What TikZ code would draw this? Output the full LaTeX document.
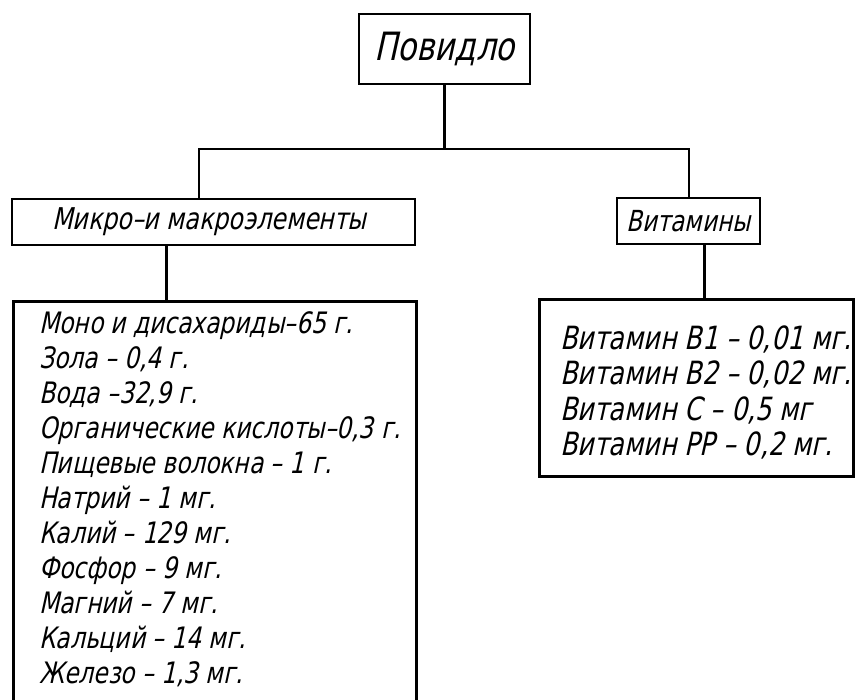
\documentclass[tikz,border=0pt]{standalone}
\usepackage{fontspec}
\newfontfamily\gost[FakeSlant=0.22,FakeStretch=0.88]{DejaVu Sans Condensed}
\tikzset{
  box/.style={draw, line width=2.8pt, inner sep=0pt, font=\gost},
  listbox/.style={box, anchor=north west, align=left}
}
\begin{document}
\begin{tikzpicture}[x=1pt, y=-1pt, line width=2.8pt]
  \useasboundingbox[fill=white] (0,0) rectangle (856,700);
  % heading boxes
  \node[box, minimum width=171pt, minimum height=70pt, font=\gost\fontsize{39}{46}\selectfont] (top) at (444.5,49) {Повидло};
  \node[box, minimum width=403pt, minimum height=46pt, font=\gost\fontsize{30}{34}\selectfont] (micro) at (213.5,222) {Микро–и макроэлементы\hspace*{8pt}};
  \node[box, minimum width=143pt, minimum height=46pt, font=\gost\fontsize{29}{34}\selectfont] (vit) at (688.5,221) {Витамины};
  % lists
  \node[listbox, font=\gost\fontsize{29.5}{35}\selectfont] (lst) at (12,300) {%
    \hspace*{26pt}\begin{minipage}[t][420pt][t]{372pt}\vspace*{10pt}
    Моно и дисахариды–65 г.\\
    Зола – 0,4 г.\\
    Вода –32,9 г.\\
    Органические кислоты–0,3 г.\\
    Пищевые волокна – 1 г.\\
    Натрий – 1 мг.\\
    Калий – 129 мг.\\
    Фосфор – 9 мг.\\
    Магний – 7 мг.\\
    Кальций – 14 мг.\\
    Железо – 1,3 мг.
    \end{minipage}\hspace*{5pt}};
  \node[listbox, font=\gost\fontsize{32}{35.5}\selectfont] (vitlst) at (538,298) {%
    \hspace*{21pt}\begin{minipage}[t][177pt][t]{293pt}\vspace*{26pt}
    Витамин В1 – 0,01 мг.\\
    Витамин В2 – 0,02 мг.\\
    Витамин С – 0,5 мг\\
    Витамин РР – 0,2 мг.
    \end{minipage}};
  % connectors
  \coordinate (jl) at (199,149);
  \coordinate (jr) at (689,149);
  \draw (top.south) -- (top.south |- jl);
  \draw (micro.north -| jl) -- (jl) -- (jr) -- (vit.north -| jr);
  \draw ([xshift=-47pt]micro.south) -- ([xshift=-47pt]micro.south |- lst.north);
  \draw ([xshift=16pt]vit.south) -- ([xshift=16pt]vit.south |- vitlst.north);
\end{tikzpicture}
\end{document}
